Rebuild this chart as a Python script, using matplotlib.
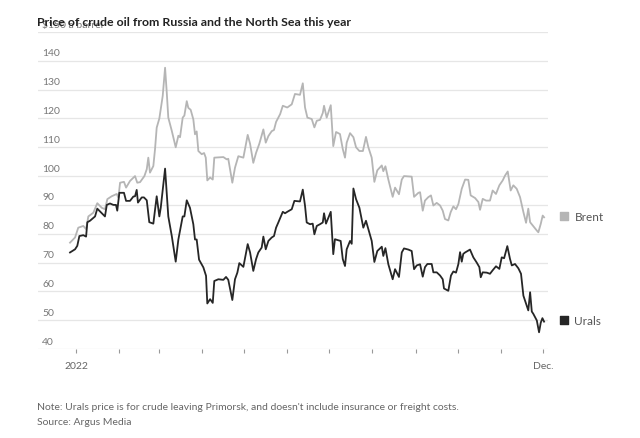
import numpy as np
import matplotlib.pyplot as plt

# days since 1 Jan 2022
urals_days = [-4.3, -0.7, 0.9, 2.4, 5.2, 7.2, 8.1, 10, 13.6, 15.2, 17.2, 20.7, 22, 24.3, 26.7, 28.6,
              29.5, 31, 34.3, 35.8, 38.6, 41, 42.2, 43.4, 44.3, 47, 48.6, 50.6, 52.4, 55.3, 57.7,
              59.6, 60.6, 63.7, 66, 68.5, 71.3, 73.2, 76.3, 77.5, 79.2, 81.5, 83.9, 85.1, 86.3, 88,
              91.1, 93, 93.9, 95.9, 97.8, 98.9, 101.8, 105.4, 107.3, 108.9, 111.8, 113.7, 115.4,
              116.8, 119.7, 122.8, 124.5, 126.8, 128.8, 130.4, 132.8, 134, 135.7, 137.6, 140, 141.6,
              143.1, 144.7, 147.9, 149.5, 151.1, 154.3, 156.2, 160.2, 162.2, 163.8, 165, 167.4,
              169.3, 170.5, 172.2, 174.5, 176.5, 177.4, 178.8, 182.2, 184, 185.2, 187.1, 189.3,
              190.8, 192.4, 193.6, 196, 197.2, 198.4, 200.3, 202.7, 205.5, 207.4, 209.1, 211.5,
              213.4, 215.5, 218.7, 219.8, 221.3, 223.4, 226.5, 228.2, 231, 233, 234.6, 237.7, 240.1,
              241.8, 243.7, 246.1, 248, 249.6, 251.3, 252.5, 254.4, 255.6, 258, 260.4, 262.3, 263.2,
              266.3, 268.2, 269.9, 271.8, 273.5, 274.7, 275.9, 277, 278.3, 281.8, 284.2, 286.6,
              288.5, 289.5, 290.9, 293.8, 296.1, 298, 300.4, 302.8, 304.5, 306.2, 308.5, 310.4,
              311.7, 314, 316.4, 318.3, 320, 321.9, 323.5, 324.8, 326, 327.1, 329.6, 331.2, 332.4,
              333.6, 334.8]
urals = [73.5, 74.6, 75.8, 79.2, 79.5, 79, 84, 84.5, 86, 88.7, 87.7, 86, 90, 90.5, 90, 90,
         88, 94.2, 94.2, 91.4, 91.4, 92.9, 93, 95.2, 90.8, 92.6, 92.6, 91.6, 84, 83.5, 93,
         86, 89, 102.6, 86, 79.2, 70.3, 78, 86, 86, 91.6, 89, 83.3, 78, 78, 71,
         68.3, 65.4, 55.8, 57.3, 56, 63.6, 64.2, 64, 65, 64, 57, 64.2, 66.5,
         69.8, 68.5, 76.4, 73.5, 67.1, 71.2, 73.5, 75.2, 79, 74.6, 77.5, 78.7, 79.2,
         82.1, 83.9, 87.6, 87.1, 87.6, 88.5, 91.4, 91.2, 95.3, 89.7, 83.9, 83.3,
         83.5, 79.8, 82.7, 83.3, 83.9, 87.1, 83.5, 87.6, 72.9, 78.1, 77.8, 77.5,
         71.2, 68.8, 74.6, 77.5, 76.5, 95.7, 92, 89, 82.1, 84.5, 81.6, 77.5,
         70.2, 74, 75.5, 72.3, 75, 69.4, 64.2, 67.7, 65, 73.5, 74.9, 74.5, 74,
         67.7, 69, 69.4, 65.1, 68.4, 69.5, 69.5, 69.5, 66.6, 66.6, 65.5, 64.2, 61,
         60.2, 65.5, 66.9, 66.5, 69.5, 73.6, 70.3, 73, 73.5, 74.5, 71.8, 70,
         68.4, 64.9, 66.6, 66.5, 66.1, 67.3, 68.7, 67.8, 71.8, 71.5, 75.7, 71.3,
         69, 69.5, 68, 66.1, 58.5, 55.7, 53.4, 59.7, 53, 52.2, 49.9, 45.8, 49.1,
         50.7, 49.5]

brent_days = [-4.3, -0.7, 1.6, 5.2, 7.2, 8.8, 12.4, 15.2, 18.4, 20.7, 22.4, 25.5, 29.1, 30.3,
              31.5, 34.3, 35.8, 38.6, 42.2, 43.8, 45.8, 48.9, 50.6, 51.7, 52.9, 55.3, 56.5, 57.7,
              59.6, 62, 63.7, 64.9, 66, 68.5, 71.3, 73.2, 74.4, 76.3, 77.5, 79.2, 80.3, 82, 83.9,
              85.1, 86.3, 87.5, 89.9, 91.6, 92.8, 93.9, 95.9, 97.8, 98.9, 105.4, 107.8, 108.9,
              111.8, 113.7, 116.1, 119.7, 122.8, 124.5, 126.8, 128.8, 131.1, 134, 135.7, 137.6,
              140, 141.6, 143.1, 146, 147.9, 151.1, 154.3, 156.6, 160.2, 162.2, 163.8, 165.5,
              168.6, 170.5, 172.2, 174.5, 176.5, 177.4, 179.3, 182.2, 184, 186, 188.8, 190.8,
              192.4, 193.6, 196, 198.4, 200.3, 202.7, 205.2, 207.4, 209.1, 211.5, 213.4, 215.5,
              218.7, 219.8, 221.3, 223.4, 226.5, 228.2, 231, 233, 234.6, 240.1, 241.8, 244.9,
              246.1, 248, 249.6, 252, 253.9, 255.6, 258, 260.4, 262.3, 263.9, 266.3, 268, 269.9,
              271.8, 273.5, 275.9, 278.3, 280.6, 282.3, 285.4, 287.8, 289, 290.9, 293.3, 296.1,
              298, 300.4, 302.8, 305.2, 306.9, 308.8, 310.9, 312.8, 315.2, 317.6, 320, 321.9,
              323.5, 324.8, 327.1, 329.6, 330.7, 332.4, 333.8, 334.8]
brent = [76.9, 78.7, 82.1, 82.7, 81.6, 86, 87.3, 90.6, 89, 88.5, 92, 93, 93.8, 92.5,
         97.7, 98, 96, 98.3, 100, 97.7, 97.9, 100, 102.4, 106.4, 101.2, 103.5, 109.3, 116.8,
         120, 127.8, 137.6, 129, 120.3, 115.7, 110, 114, 113.5, 120.3, 121, 126, 123.7, 123,
         119.7, 114.5, 115.5, 108.7, 107.6, 108, 106.4, 98.5, 99.5, 98.8, 106.4, 106.6, 105.8,
         106, 97.7, 102.9, 106.9, 106.4, 114.3, 111.2, 104.6, 108.1, 111.2, 116.2, 111.6,
         113.9, 115.6, 116, 118.8, 121.5, 124.4, 123.8, 124.9, 128.5, 128.2, 132.2, 123.8,
         120.3, 119.8, 116.9, 119.2, 119.5, 121.9, 124.4, 120.3, 124.6, 110.4, 115.3, 114.6,
         109.4, 106.4, 111.6, 114.9, 113.5, 110, 108.7, 108.7, 113.6, 110, 106.4, 98, 102,
         103.7, 101.7, 103.4, 98.8, 92.8, 96, 93.7, 98.8, 100, 99.8, 92.8, 94.2,
         94.4, 88, 91.5, 92.7, 93.3, 89.8, 90.7, 89.8, 88, 85.1, 84.6, 87.5, 89.5,
         88.5, 90.3, 95.6, 98.8, 98.7, 93.3, 92.4, 91, 88.3, 92.1, 91.5, 91.5,
         95, 93.8, 96.8, 98.5, 100.2, 101.6, 95, 96.8, 95.6, 92.7, 87.5, 83.8,
         88.7, 84, 82.6, 81.1, 80.5, 83.4, 86.3, 85.7]

month_starts = [0, 31, 59, 90, 120, 151, 181, 212, 243, 273, 304, 334]
yticks = [40, 50, 60, 70, 80, 90, 100, 110, 120, 130, 140, 150]

plt.rcParams['font.family'] = ['Lato', 'DejaVu Sans']

fig = plt.figure(figsize=(6.4, 4.39), dpi=100)
ax = fig.add_axes([38 / 640, 1 - 350 / 439, 510 / 640, 317 / 439])

grey = '#b5b5b5'
dark = '#262626'

for v in yticks:
    ax.axhline(v, color='#e6e6e6', lw=0.9, zorder=0)
    label = '$150 a barrel' if v == 150 else str(v)
    ax.text(0.008, v + 1.2, label, transform=ax.get_yaxis_transform(),
            fontsize=7.5, color='#777777', va='bottom', ha='left')

ax.plot(brent_days, brent, color=grey, lw=1.3, zorder=2)
ax.plot(urals_days, urals, color=dark, lw=1.3, zorder=3)

ax.set_xlim(-27.2, 337.6)
ax.set_ylim(40, 150)
ax.set_yticks([])
ax.set_xticks(month_starts)
ax.set_xticklabels(['2022'] + [''] * 10 + ['Dec.'])
ax.tick_params(axis='x', length=3, width=0.8, color='#999999',
               labelsize=7.5, labelcolor='#666666', pad=6)
for s in ax.spines.values():
    s.set_visible(False)
ax.patch.set_alpha(0)

# legend squares at the right
ax.scatter([349], [86], marker='s', s=40, color=grey, clip_on=False)
ax.text(356.5, 86, 'Brent', fontsize=8.5, color='#555555', va='center', ha='left')
ax.scatter([349], [50], marker='s', s=40, color=dark, clip_on=False)
ax.text(356.5, 50, 'Urals', fontsize=8.5, color='#555555', va='center', ha='left')

fig.text(37 / 640, 1 - 22 / 439, 'Price of crude oil from Russia and the North Sea this year',
         fontsize=8.9, fontweight='bold', color='#222222', va='center', ha='left')
fig.text(37 / 640, 1 - 408 / 439,
         "Note: Urals price is for crude leaving Primorsk, and doesn't include insurance or freight costs.",
         fontsize=7.5, color='#666666', va='center', ha='left')
fig.text(37 / 640, 1 - 423 / 439, 'Source: Argus Media',
         fontsize=7.5, color='#666666', va='center', ha='left')

fig.savefig('out.png', dpi=100)
